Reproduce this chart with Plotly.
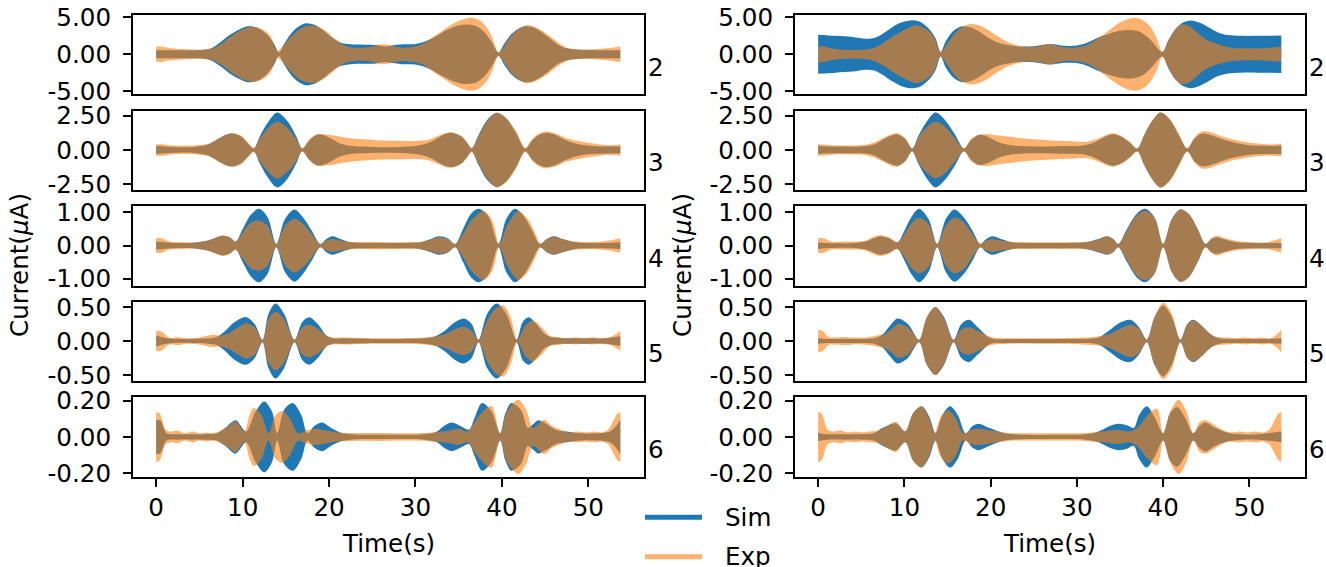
import plotly.graph_objects as go

W, H = 1326, 567
FONT = "DejaVu Sans"
FS = 24.6

# ---------------- data ----------------
time_ticks = [0, 10, 20, 30, 40, 50]
time_tick_labels = ["0", "10", "20", "30", "40", "50"]
harmonics = ["2", "3", "4", "5", "6"]
y_ticks = [[-5, 0, 5], [-2.5, 0, 2.5], [-1, 0, 1], [-0.5, 0, 0.5], [-0.2, 0, 0.2]]
y_tick_labels = [["-5.00", "0.00", "5.00"], ["-2.50", "0.00", "2.50"],
                 ["-1.00", "0.00", "1.00"], ["-0.50", "0.00", "0.50"],
                 ["-0.20", "0.00", "0.20"]]
y_ranges = [[-5.45, 5.33], [-2.93, 2.88], [-1.21, 1.19], [-0.59, 0.575], [-0.22, 0.218]]
x_range = [-2.685, 56.385]

# envelope amplitudes (time s, amplitude uA)
L2_sim = [(0, .55), (2, .55), (4, .55), (5.5, .6), (6.5, .9), (7.5, 1.7), (8.5, 2.6), (9.5, 3.3), (10.6, 3.8),
          (11.7, 3.6), (12.8, 2.7), (13.6, 1.5), (14.2, .25), (14.8, 1.4), (15.6, 2.8), (16.4, 3.7), (17.3, 4.2),
          (18.3, 4.0), (19.3, 3.3), (20.3, 2.3), (21.3, 1.6), (22.5, 1.35), (24, 1.3), (25.5, 1.25), (26.4, 1.05),
          (27.3, 1.2), (28.5, 1.35), (30, 1.4), (31, 1.7), (32, 2.2), (33, 2.9), (34, 3.5), (35, 3.9), (36, 4.05),
          (37, 3.85), (37.9, 3.1), (38.8, 1.7), (39.6, .25), (40.3, 1.5), (41.0, 2.6), (41.8, 3.4), (42.6, 3.8),
          (43.5, 3.7), (44.5, 3.1), (45.5, 2.2), (46.5, 1.3), (47.5, .8), (49, .6), (51, .55), (53.7, .55)]
L2_exp = [(0, 1.05), (0.6, 1.05), (1.5, .85), (3, .7), (5, .62), (6.5, .8), (7.5, 1.4), (8.5, 2.3), (9.5, 3.1),
          (10.5, 3.6), (11.3, 3.75), (12.3, 3.4), (13.2, 2.5), (14.0, .5), (14.8, 1.3), (15.7, 2.5), (16.7, 3.5),
          (17.8, 3.9), (18.8, 3.7), (19.8, 3.0), (20.8, 2.0), (21.8, 1.2), (23, .9), (24.5, .95), (25.5, 1.2),
          (26.3, 1.35), (27.2, 1.15), (28.5, .9), (30, 1.1), (31, 1.5), (32, 2.3), (33, 3.1), (34, 3.9), (35, 4.5),
          (36.3, 4.95), (37.3, 4.7), (38.2, 3.7), (38.9, 2.2), (39.6, .25), (40.3, 1.2), (41.0, 2.4), (41.8, 3.3),
          (42.7, 3.9), (43.6, 3.8), (44.5, 3.3), (45.5, 2.5), (46.5, 1.6), (47.5, .9), (49, .65), (51, .7),
          (52.5, .85), (53.7, 1.05)]
R2_sim = [(0, 2.65), (2, 2.5), (4, 2.35), (5.5, 2.1), (6.5, 2.2), (7.5, 2.8), (8.5, 3.6), (9.6, 4.3), (10.7, 4.6),
          (11.8, 4.4), (12.8, 3.5), (13.6, 2.2), (14.2, .3), (14.8, 1.8), (15.7, 3.2), (16.7, 3.8), (17.8, 3.6),
          (18.8, 3.0), (19.8, 2.2), (20.8, 1.6), (22, 1.25), (23.5, 1.05), (25, 1.1), (26.9, 1.4), (28.5, 1.15),
          (30, 1.2), (31, 1.5), (32, 2.0), (33, 2.5), (34, 2.9), (35, 3.2), (36.3, 3.3), (37.4, 3.0), (38.5, 2.0),
          (39.9, .3), (40.6, 1.9), (41.4, 3.4), (42.3, 4.3), (43.2, 4.6), (44.2, 4.3), (45.2, 3.7), (46.3, 3.0),
          (47.5, 2.6), (49, 2.5), (51, 2.5), (53.7, 2.55)]
R2_exp = [(0, 1.1), (0.7, 1.05), (1.5, .8), (3, .6), (5, .6), (6.5, .9), (7.5, 1.5), (8.5, 2.3), (9.5, 3.0),
          (10.5, 3.6), (11.3, 3.95), (12.4, 3.5), (13.4, 2.4), (14.2, .3), (15.0, 1.5), (15.8, 2.8), (16.7, 3.7),
          (17.7, 4.1), (18.7, 3.9), (19.7, 3.3), (20.7, 2.5), (22.3, 1.5), (24.2, 1.0), (25.5, 1.1), (26.9, 1.4),
          (28, 1.05), (29.5, .9), (31, 1.2), (32, 1.8), (33, 2.6), (34, 3.5), (35, 4.3), (36.6, 4.95), (37.7, 4.6),
          (38.6, 3.6), (39.3, 2.0), (39.9, .3), (40.5, 1.6), (41.2, 3.0), (42.0, 4.0), (42.9, 3.9), (43.9, 3.0),
          (45, 2.0), (46.5, 1.3), (48, .9), (50, .8), (52, .85), (53.7, 1.05)]
L3_sim = [(0, .3), (1, .25), (2.5, .2), (4.5, .22), (6, .4), (7, .75), (8, 1.1), (8.8, 1.2), (9.8, 1.0),
          (10.6, .5), (11.3, .12), (12.0, 1.0), (12.8, 1.9), (14.0, 2.74), (15.2, 2.1), (16.2, 1.0), (16.9, .1),
          (17.7, .7), (18.5, 1.1), (19.2, 1.12), (20.2, .85), (21.2, .5), (22.5, .3), (25, .22), (28, .22),
          (30.5, .35), (31.8, .6), (32.8, .95), (33.6, 1.2), (34.3, 1.25), (35.3, 1.0), (36.0, .5), (36.5, .12),
          (37.3, 1.1), (38.3, 2.2), (39.4, 2.72), (40.5, 2.3), (41.6, 1.3), (42.7, .1), (43.5, .7), (44.3, 1.1),
          (45.1, 1.25), (46.2, 1.1), (47.5, .7), (49, .4), (51, .28), (53.7, .25)]
L3_exp = [(0, .42), (0.7, .42), (2, .32), (4, .32), (6, .45), (7, .75), (8, 1.1), (8.8, 1.25), (9.8, 1.05),
          (10.6, .55), (11.3, .15), (12.0, .85), (12.8, 1.5), (14.0, 2.08), (15.2, 1.6), (16.2, .8), (16.9, .12),
          (17.7, .75), (18.5, 1.12), (19.3, 1.15), (20.5, 1.06), (22, .9), (24, .78), (26, .7), (28, .68),
          (30, .66), (31.5, .75), (32.5, 1.0), (33.4, 1.22), (34.2, 1.3), (35.2, 1.05), (36.0, .55), (36.5, .15),
          (37.3, 1.0), (38.3, 2.1), (39.4, 2.72), (40.5, 2.35), (41.6, 1.4), (42.7, .15), (43.5, .8), (44.3, 1.2),
          (45.1, 1.35), (46.2, 1.2), (47.5, .85), (49.3, .6), (51.2, .42), (52.5, .35), (53.7, .42)]
R3_sim = [(0, .3), (1, .25), (3, .25), (5, .25), (6.5, .4), (7.5, .75), (8.5, 1.05), (9.2, 1.15), (10.1, .8),
          (10.9, .1), (11.6, 1.0), (12.5, 2.0), (13.6, 2.74), (14.7, 2.2), (15.8, 1.2), (16.9, .1), (17.7, .7),
          (18.6, 1.1), (19.5, 1.0), (20.5, .7), (21.5, .45), (23, .3), (25, .25), (28, .28), (30.5, .3),
          (32, .55), (33.2, .95), (34.2, 1.15), (35.2, .95), (36.2, .5), (37.0, .1), (37.8, 1.1), (38.7, 2.1),
          (39.7, 2.74), (40.8, 2.2), (41.8, 1.1), (42.8, .1), (43.6, .8), (44.5, 1.2), (45.5, 1.1), (46.8, .8),
          (48.2, .55), (50, .35), (51.5, .3), (53.7, .3)]
R3_exp = [(0, .42), (0.7, .4), (2, .33), (4, .33), (5.5, .38), (6.5, .55), (7.5, .85), (8.5, 1.15), (9.2, 1.22),
          (10.1, .85), (10.9, .12), (11.6, .9), (12.5, 1.6), (13.6, 2.08), (14.7, 1.7), (15.8, .9), (16.9, .12),
          (17.7, .8), (18.6, 1.1), (19.5, 1.17), (21, 1.05), (23, .9), (25, .78), (27, .7), (29, .65),
          (31.2, .6), (32.5, .85), (33.4, 1.1), (34.2, 1.22), (35.2, 1.0), (36.2, .55), (37.0, .12), (37.8, 1.1),
          (38.7, 2.1), (39.7, 2.74), (40.8, 2.25), (41.8, 1.2), (42.8, .12), (43.6, .9), (44.5, 1.35), (45.5, 1.3),
          (46.8, 1.0), (48.2, .74), (49.8, .55), (51.3, .45), (52.5, .4), (53.7, .47)]
L4_sim = [(0, .12), (0.8, .1), (2, .08), (4, .08), (6, .15), (7, .25), (7.7, .3), (8.5, .25), (9.2, .12),
          (10.0, .5), (11.0, .95), (11.9, 1.11), (12.9, .85), (13.9, .05), (14.9, .8), (16.0, 1.09), (17.0, .85),
          (18.0, .45), (19.0, .05), (19.7, .2), (20.4, .28), (21.3, .2), (22.5, .1), (25, .08), (28, .08),
          (30.5, .1), (31.8, .2), (32.7, .28), (33.7, .22), (34.6, .05), (35.5, .5), (36.4, .95), (37.3, 1.11),
          (38.4, .9), (39.6, .05), (40.5, .8), (41.5, 1.11), (42.5, .9), (43.5, .45), (44.4, .05), (45.2, .2),
          (46.0, .28), (47, .2), (48.5, .1), (50, .08), (52, .08), (53.7, .1)]
L4_exp = [(0, .22), (0.6, .22), (1.5, .12), (3, .1), (5, .1), (6.5, .2), (7.7, .31), (8.5, .25), (9.2, .13),
          (10, .4), (11, .7), (11.9, .76), (12.9, .6), (13.9, .05), (14.9, .6), (16.0, .81), (17.0, .65),
          (18.0, .35), (19.0, .05), (19.7, .15), (20.4, .2), (21.3, .15), (22.5, .11), (25, .11), (28, .1),
          (30.5, .11), (31.8, .18), (32.7, .25), (33.7, .2), (34.6, .05), (35.5, .35), (36.6, .8), (37.9, 1.04),
          (38.9, .75), (39.7, .05), (40.6, .6), (41.9, 1.04), (43.0, .8), (43.8, .4), (44.5, .05), (45.2, .2),
          (46.0, .26), (47, .2), (48.5, .12), (50, .1), (51.5, .12), (52.5, .15), (53.7, .22)]
R4_sim = [(0, .1), (0.8, .08), (2, .07), (4, .07), (5.5, .12), (6.5, .22), (7.2, .28), (8.2, .22), (9.2, .1),
          (10, .45), (10.9, .9), (11.7, 1.11), (12.8, .8), (13.8, .05), (14.8, .8), (15.8, 1.09), (16.9, .85),
          (17.9, .45), (18.8, .05), (19.5, .2), (20.2, .28), (21.2, .2), (22.5, .1), (25, .08), (28, .08),
          (31, .1), (32.5, .2), (33.5, .28), (34.2, .2), (34.8, .05), (35.8, .5), (36.9, .95), (37.9, 1.11),
          (39, .85), (40.0, .05), (41.0, .8), (42.0, 1.1), (43.0, .95), (44, .5), (44.9, .05), (45.6, .2),
          (46.2, .25), (47.2, .18), (48.5, .1), (50.5, .08), (52, .08), (53.7, .08)]
R4_exp = [(0, .22), (0.6, .22), (1.5, .12), (3, .12), (4.5, .12), (5.5, .15), (6.3, .25), (7.2, .31), (8.2, .25),
          (9.2, .1), (10, .35), (10.9, .7), (11.7, .84), (12.8, .65), (13.8, .05), (14.8, .6), (15.8, .84),
          (16.9, .7), (17.9, .35), (18.8, .05), (19.5, .15), (20.2, .2), (21.2, .15), (22.5, .11), (25, .1),
          (28, .1), (31, .11), (32.5, .18), (33.5, .28), (34.2, .2), (34.8, .05), (35.8, .45), (36.9, .9),
          (37.9, 1.05), (39, .85), (40.0, .05), (41.0, .8), (42.0, 1.1), (43.0, .95), (44, .5), (44.9, .05),
          (45.6, .22), (46.2, .3), (47.2, .22), (48.5, .14), (50.5, .1), (52, .1), (52.8, .15), (53.7, .22)]
L5_sim = [(0, .08), (0.8, .05), (2, .03), (4, .03), (6, .04), (7, .06), (8, .15), (9, .27), (10.4, .35),
          (11.4, .25), (12.3, .02), (13.0, .4), (13.8, .55), (14.8, .4), (16.0, .02), (16.9, .28), (17.7, .35),
          (18.7, .25), (19.7, .08), (20.4, .04), (22, .04), (25, .03), (28, .03), (31, .04), (32.3, .07),
          (33.4, .15), (34.5, .27), (35.6, .33), (36.5, .25), (37.3, .02), (38.3, .4), (39.4, .55), (40.5, .4),
          (41.7, .02), (42.4, .28), (43.1, .35), (44.0, .25), (45, .1), (46, .05), (48, .04), (50, .04),
          (52, .04), (53.7, .07)]
L5_exp = [(0, .15), (0.6, .14), (1.5, .05), (2.5, .06), (3.5, .04), (5, .05), (6.5, .09), (7.5, .08), (8.5, .12),
          (9.5, .2), (10.4, .26), (11.4, .2), (12.3, .02), (13.0, .32), (13.8, .43), (14.8, .32), (16.0, .02),
          (16.9, .2), (17.7, .24), (18.7, .18), (19.7, .08), (20.4, .05), (22, .05), (25, .04), (28, .04),
          (31, .05), (32.3, .07), (33.4, .1), (34.5, .17), (35.6, .21), (36.5, .15), (37.3, .02), (38.3, .3),
          (39.3, .48), (40.2, .52), (41.0, .35), (41.8, .02), (42.7, .22), (43.6, .3), (44.6, .2), (45.6, .07),
          (46.5, .06), (47.5, .04), (48.5, .05), (49.5, .04), (50.5, .05), (51.5, .04), (52.5, .06), (53.2, .1),
          (53.7, .15)]
R5_sim = [(0, .04), (1, .03), (3, .03), (5, .03), (6.5, .04), (7.5, .1), (8.3, .22), (9.2, .33), (10.4, .25),
          (11.7, .02), (12.6, .35), (13.6, .5), (14.6, .35), (15.7, .02), (16.6, .25), (17.5, .31), (18.5, .2),
          (20, .04), (22, .03), (25, .03), (28, .03), (31, .03), (32.5, .05), (33.7, .15), (35, .27), (36.2, .31),
          (37.2, .2), (38.1, .02), (39, .35), (40.0, .52), (41.0, .35), (42.0, .02), (42.8, .25), (43.5, .31),
          (44.5, .22), (45.5, .1), (46.5, .04), (48, .03), (50, .03), (52, .03), (53.7, .04)]
R5_exp = [(0, .16), (0.5, .15), (1.2, .06), (2, .05), (3, .06), (4, .05), (5, .05), (6, .06), (6.8, .08),
          (7.7, .1), (8.5, .17), (9.3, .25), (10.4, .2), (11.7, .02), (12.6, .35), (13.6, .5), (14.6, .33),
          (15.7, .02), (16.6, .17), (17.5, .2), (18.5, .15), (20, .06), (22, .04), (25, .04), (28, .04),
          (30.5, .05), (31.9, .06), (33.5, .09), (35, .18), (36.2, .24), (37.2, .18), (38.1, .02), (39, .35),
          (40.0, .56), (41.0, .4), (42.0, .02), (42.8, .25), (43.5, .3), (44.5, .22), (45.5, .1), (46.3, .06),
          (47.5, .05), (48.5, .04), (49.5, .05), (50.5, .04), (51.5, .05), (52.5, .04), (53.2, .1), (53.7, .17)]
L6_sim = [(0, .095), (0.5, .09), (1.2, .02), (2.5, .015), (4, .015), (5.5, .015), (7, .02), (8, .05), (9.2, .092),
          (10.4, .03), (11.5, .14), (12.5, .196), (13.4, .14), (14.0, .02), (14.8, .15), (15.8, .187), (16.8, .12),
          (17.5, .02), (18.3, .06), (19.2, .079), (20.2, .05), (21.3, .025), (22.5, .015), (25, .012), (28, .012),
          (31, .015), (32.5, .03), (33.3, .06), (34.2, .079), (35.2, .06), (36.2, .04), (36.8, .1), (37.7, .187),
          (38.8, .14), (39.8, .02), (40.4, .13), (41.1, .187), (42.2, .15), (43.0, .05), (43.6, .07), (44.2, .092),
          (45.2, .07), (46.2, .04), (47.5, .03), (49, .02), (51, .02), (52.5, .03), (53.2, .06), (53.7, .095)]
L6_exp = [(0, .138), (0.4, .13), (1.1, .04), (1.8, .03), (2.5, .035), (3.3, .02), (4.2, .03), (5, .02), (5.8, .025),
          (6.6, .02), (7.5, .035), (8.4, .06), (9.2, .085), (10.2, .03), (10.8, .12), (11.3, .16), (12.2, .12),
          (13.0, .02), (13.8, .12), (14.6, .143), (15.5, .1), (16.4, .02), (17.3, .035), (18.5, .045), (19.7, .035),
          (21, .025), (23, .022), (26, .022), (29, .02), (32, .025), (34, .035), (35, .045), (36.0, .03), (36.8, .08),
          (37.8, .14), (38.8, .17), (39.8, .02), (40.6, .14), (41.9, .205), (42.8, .15), (43.6, .05), (44.9, .095),
          (45.8, .06), (46.8, .04), (47.8, .025), (48.8, .03), (49.8, .025), (50.7, .03), (51.5, .025), (52.3, .04),
          (52.9, .09), (53.4, .13), (53.7, .138)]
R6_sim = [(0, .022), (1, .015), (3, .015), (5, .015), (6.4, .02), (7.5, .05), (9.0, .075), (10.1, .03), (11, .13),
          (12.0, .169), (12.9, .11), (13.6, .02), (14.4, .12), (15.3, .169), (16.2, .12), (17.1, .02), (17.9, .06),
          (18.6, .073), (19.8, .05), (21.6, .02), (24, .012), (28, .012), (31, .015), (32.5, .03), (33.8, .06),
          (34.8, .073), (35.8, .065), (36.6, .05), (37.2, .12), (38.1, .169), (39.0, .11), (40.0, .02), (40.8, .13),
          (41.6, .165), (42.5, .11), (43.5, .02), (44.2, .06), (44.9, .08), (46, .05), (47.4, .025), (49, .015),
          (51, .015), (53.7, .03)]
R6_exp = [(0, .138), (0.4, .13), (1.1, .04), (1.8, .03), (2.6, .035), (3.4, .025), (4.2, .03), (5.1, .025), (6, .03),
          (7, .035), (8, .06), (9.0, .083), (10.1, .03), (11, .13), (12.0, .169), (12.9, .1), (13.5, .02), (14.2, .11),
          (15.1, .147), (16.0, .1), (16.8, .02), (17.8, .04), (18.8, .045), (20, .035), (22, .022), (25, .02),
          (28, .02), (31, .022), (33, .03), (34.8, .04), (36, .03), (37, .05), (38.2, .12), (39.3, .156), (40.0, .02),
          (40.9, .15), (41.8, .205), (42.7, .14), (43.5, .02), (44.2, .08), (44.9, .092), (45.8, .07), (46.8, .04),
          (47.8, .025), (48.8, .03), (49.8, .025), (50.7, .03), (51.5, .025), (52.3, .04), (52.9, .09), (53.4, .13),
          (53.7, .138)]

panels = [[(L2_sim, L2_exp), (R2_sim, R2_exp)],
          [(L3_sim, L3_exp), (R3_sim, R3_exp)],
          [(L4_sim, L4_exp), (R4_sim, R4_exp)],
          [(L5_sim, L5_exp), (R5_sim, R5_exp)],
          [(L6_sim, L6_exp), (R6_sim, R6_exp)]]

# ---------------- layout geometry (pixels) ----------------
col_x = [(133, 643.5), (795, 1304.5)]
row_top0, row_pitch, row_h = 15, 95.6, 79.4

SIM_C = "#1f77b4"
EXP_C = "rgba(255,127,14,0.6)"

fig = go.Figure()
layout = dict(width=W, height=H, margin=dict(l=0, r=0, t=0, b=0, autoexpand=False),
              paper_bgcolor="white", plot_bgcolor="white", showlegend=False,
              font=dict(family=FONT, size=FS, color="black"))
annotations = []

for r in range(5):
    top = row_top0 + r * row_pitch
    bot = top + row_h
    for c in range(2):
        n = r * 2 + c + 1
        xa = "x" if n == 1 else f"x{n}"
        ya = "y" if n == 1 else f"y{n}"
        sim, exp = panels[r][c]
        for series, color in ((sim, SIM_C), (exp, EXP_C)):
            t = [p[0] for p in series]
            a = [p[1] for p in series]
            fig.add_trace(go.Scatter(x=t, y=a, mode="lines", xaxis=xa, yaxis=ya,
                                     line=dict(width=0, shape="spline", smoothing=0.9, color=color),
                                     hoverinfo="skip", showlegend=False))
            fig.add_trace(go.Scatter(x=t, y=[-v for v in a], mode="lines", xaxis=xa, yaxis=ya,
                                     fill="tonexty", fillcolor=color,
                                     line=dict(width=0, shape="spline", smoothing=0.9, color=color),
                                     hoverinfo="skip", showlegend=False))
        x0, x1 = col_x[c]
        bottom_row = (r == 4)
        layout["xaxis" if n == 1 else f"xaxis{n}"] = dict(
            domain=[x0 / W, x1 / W], range=x_range, anchor=ya, automargin=False,
            showline=True, mirror=True, linecolor="black", linewidth=1.9,
            showgrid=False, zeroline=False,
            tickmode="array", tickvals=time_ticks, ticktext=time_tick_labels,
            ticks="outside" if bottom_row else "", ticklen=8, tickwidth=1.9, tickcolor="black",
            showticklabels=bottom_row, tickfont=dict(family=FONT, size=FS, color="black"))
        layout["yaxis" if n == 1 else f"yaxis{n}"] = dict(
            domain=[1 - bot / H, 1 - top / H], range=y_ranges[r], anchor=xa, automargin=False,
            showline=True, mirror=True, linecolor="black", linewidth=1.9,
            showgrid=False, zeroline=False,
            tickmode="array", tickvals=y_ticks[r], ticktext=y_tick_labels[r],
            ticks="outside", ticklen=8, tickwidth=1.9, tickcolor="black", ticklabelstandoff=7,
            tickfont=dict(family=FONT, size=FS, color="black"))
        # harmonic label on the right
        annotations.append(dict(text=harmonics[r], x=(x1 + 2) / W, y=1 - (top + row_h / 2 + 12.5) / H,
                                xref="paper", yref="paper", xanchor="left", yanchor="middle",
                                showarrow=False, font=dict(family=FONT, size=FS, color="black")))

# axis titles
for cx in (20, 683):
    annotations.append(dict(text="Current(<i>μ</i>A)", x=cx / W, y=1 - 265 / H, xref="paper", yref="paper",
                            xanchor="center", yanchor="middle", textangle=-90, showarrow=False,
                            font=dict(family=FONT, size=FS, color="black")))
for cx in (388, 1049.5):
    annotations.append(dict(text="Time(s)", x=cx / W, y=1 - 543 / H, xref="paper", yref="paper",
                            xanchor="center", yanchor="middle", showarrow=False,
                            font=dict(family=FONT, size=FS, color="black")))

# legend
legend_items = [("Sim", SIM_C, 517.3), ("Exp", EXP_C, 556.7)]
shapes = []
for name, color, ly in legend_items:
    shapes.append(dict(type="line", xref="paper", yref="paper", x0=645 / W, x1=702 / W,
                       y0=1 - ly / H, y1=1 - ly / H, line=dict(color=color, width=5)))
    annotations.append(dict(text=name, x=723 / W, y=1 - ly / H, xref="paper", yref="paper",
                            xanchor="left", yanchor="middle", showarrow=False,
                            font=dict(family=FONT, size=FS, color="black")))

layout["annotations"] = annotations
layout["shapes"] = shapes
fig.update_layout(**layout)
fig.write_html("out.html")
